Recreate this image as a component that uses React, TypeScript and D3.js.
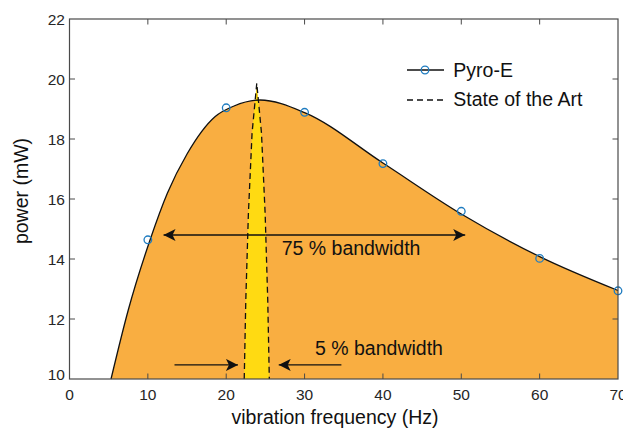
import React, { useEffect, useRef } from "react";
import * as d3 from "d3";

// measured Pyro-E samples
const pyroFreq = [10, 20, 30, 40, 50, 60, 70];
const pyroPower = [14.64, 19.04, 18.89, 17.18, 15.59, 14.02, 12.94];

// fitted Pyro-E curve (anchor points)
const fitFreq = [5.3, 7.5, 10.3, 12.5, 15, 18.6, 21, 24.3, 30, 40, 50, 60, 70];
const fitPower = [10, 12.3, 14.65, 16.2, 17.5, 18.75, 19.1, 19.3, 18.88, 17.2, 15.5, 14.08, 12.95];

// state of the art narrow peak
const sotaFreq = [22.3, 22.5, 22.83, 23.3, 23.9, 24.5, 24.97, 25.3, 25.5];
const sotaPower = [10, 12.63, 15.5, 18.2, 19.86, 18.2, 15.5, 12.63, 10];

const xTicks = [0, 10, 20, 30, 40, 50, 60, 70];
const yTicks = [10, 12, 14, 16, 18, 20, 22];

const W = 623;
const H = 431;
const FONT = "'Liberation Sans', Arial, Helvetica, sans-serif";

const App = () => {
  const svgRef = useRef<SVGSVGElement | null>(null);

  useEffect(() => {
    const svg = d3.select(svgRef.current);
    svg.selectAll("*").remove();

    const x = d3.scaleLinear().domain([0, 70]).range([69.5, 618]);
    const y = d3.scaleLinear().domain([10, 22]).range([379, 19]);

    const defs = svg.append("defs");
    defs
      .append("marker")
      .attr("id", "arr")
      .attr("markerUnits", "userSpaceOnUse")
      .attr("markerWidth", 12)
      .attr("markerHeight", 12)
      .attr("viewBox", "0 -5 10 10")
      .attr("refX", 10)
      .attr("refY", 0)
      .attr("orient", "auto-start-reverse")
      .append("path")
      .attr("d", "M0,-5L10,0L0,5L2.5,0Z")
      .attr("fill", "#111");

    const fit = fitFreq.map((f, i) => [f, fitPower[i]] as [number, number]);
    const sota = sotaFreq.map((f, i) => [f, sotaPower[i]] as [number, number]);

    // orange area under the Pyro-E curve
    const area = d3
      .area<[number, number]>()
      .x((d) => x(d[0]))
      .y0(y(10))
      .y1((d) => y(d[1]))
      .curve(d3.curveMonotoneX);
    svg.append("path").datum(fit).attr("d", area).attr("fill", "#F9AE41");

    // yellow peak
    const sotaLine = d3
      .line<[number, number]>()
      .x((d) => x(d[0]))
      .y((d) => y(d[1]))
      .curve(d3.curveLinear);
    svg.append("path").datum(sota).attr("d", sotaLine).attr("fill", "#FFDA12");

    // Pyro-E line
    const line = d3
      .line<[number, number]>()
      .x((d) => x(d[0]))
      .y((d) => y(d[1]))
      .curve(d3.curveMonotoneX);
    svg
      .append("path")
      .datum(fit)
      .attr("d", line)
      .attr("fill", "none")
      .attr("stroke", "#111")
      .attr("stroke-width", 1.3);

    // dashed outline of the peak
    svg
      .append("path")
      .datum(sota)
      .attr("d", sotaLine)
      .attr("fill", "none")
      .attr("stroke", "#111")
      .attr("stroke-width", 1.3)
      .attr("stroke-dasharray", "6,4");

    // data points
    svg
      .selectAll("circle.pt")
      .data(pyroFreq)
      .enter()
      .append("circle")
      .attr("class", "pt")
      .attr("cx", (d) => x(d))
      .attr("cy", (d, i) => y(pyroPower[i]))
      .attr("r", 3.8)
      .attr("fill", "none")
      .attr("stroke", "#1f7cc0")
      .attr("stroke-width", 1.3);

    // bandwidth arrows
    const arrows = [
      [25, 12, 14.8],
      [25, 50.5, 14.8],
      [13.4, 21.5, 10.47],
      [34.7, 26.7, 10.47],
    ];
    arrows.forEach(([from, to, level]) => {
      svg
        .append("line")
        .attr("x1", x(from))
        .attr("x2", x(to))
        .attr("y1", y(level))
        .attr("y2", y(level))
        .attr("stroke", "#111")
        .attr("stroke-width", 1.3)
        .attr("marker-end", "url(#arr)");
    });

    svg
      .append("text")
      .attr("x", 281.7)
      .attr("y", 255)
      .attr("font-family", FONT)
      .attr("font-size", 19.5)
      .attr("fill", "#111")
      .text("75 % bandwidth");
    svg
      .append("text")
      .attr("x", 315)
      .attr("y", 355)
      .attr("font-family", FONT)
      .attr("font-size", 19.5)
      .attr("fill", "#111")
      .text("5 % bandwidth");

    // frame and inward ticks
    const axisColor = "#4a4a4a";
    svg
      .append("rect")
      .attr("x", x(0))
      .attr("y", y(22))
      .attr("width", x(70) - x(0))
      .attr("height", y(10) - y(22))
      .attr("fill", "none")
      .attr("stroke", axisColor)
      .attr("stroke-width", 1.2);

    const tickLen = 5.5;
    const ticks = svg.append("g").attr("stroke", axisColor).attr("stroke-width", 1);
    xTicks.slice(1, -1).forEach((t) => {
      ticks.append("line").attr("x1", x(t)).attr("x2", x(t)).attr("y1", y(22)).attr("y2", y(22) + tickLen);
      ticks.append("line").attr("x1", x(t)).attr("x2", x(t)).attr("y1", y(10)).attr("y2", y(10) - tickLen);
    });
    yTicks.slice(1, -1).forEach((t) => {
      ticks.append("line").attr("x1", x(0)).attr("x2", x(0) + tickLen).attr("y1", y(t)).attr("y2", y(t));
      ticks.append("line").attr("x1", x(70)).attr("x2", x(70) - tickLen).attr("y1", y(t)).attr("y2", y(t));
    });

    // tick labels
    svg
      .append("g")
      .selectAll("text")
      .data(xTicks)
      .enter()
      .append("text")
      .attr("x", (d) => x(d))
      .attr("y", 400)
      .attr("text-anchor", "middle")
      .attr("font-family", FONT)
      .attr("font-size", 15.5)
      .attr("fill", "#262626")
      .text((d) => d);
    svg
      .append("g")
      .selectAll("text")
      .data(yTicks)
      .enter()
      .append("text")
      .attr("x", 65)
      .attr("y", (d) => (d === 10 ? y(d) - 5 : y(d)))
      .attr("dy", "0.36em")
      .attr("text-anchor", "end")
      .attr("font-family", FONT)
      .attr("font-size", 15.5)
      .attr("fill", "#262626")
      .text((d) => d);

    // axis titles
    svg
      .append("text")
      .attr("x", 335)
      .attr("y", 424)
      .attr("text-anchor", "middle")
      .attr("font-family", FONT)
      .attr("font-size", 19.5)
      .attr("fill", "#111")
      .text("vibration frequency (Hz)");
    svg
      .append("text")
      .attr("transform", "translate(28,191) rotate(-90)")
      .attr("text-anchor", "middle")
      .attr("font-family", FONT)
      .attr("font-size", 19.5)
      .attr("fill", "#111")
      .text("power (mW)");

    // legend
    const lg = svg.append("g");
    lg.append("line").attr("x1", 407).attr("x2", 444).attr("y1", 70).attr("y2", 70).attr("stroke", "#111").attr("stroke-width", 1.3);
    lg.append("circle").attr("cx", 425).attr("cy", 70).attr("r", 3.8).attr("fill", "none").attr("stroke", "#1f7cc0").attr("stroke-width", 1.3);
    lg.append("text").attr("x", 453.3).attr("y", 76.5).attr("font-family", FONT).attr("font-size", 19.5).attr("fill", "#111").text("Pyro-E");
    lg.append("line").attr("x1", 407).attr("x2", 444).attr("y1", 100).attr("y2", 100).attr("stroke", "#111").attr("stroke-width", 1.3).attr("stroke-dasharray", "6,4");
    lg.append("text").attr("x", 453.3).attr("y", 106).attr("font-family", FONT).attr("font-size", 19.5).attr("fill", "#111").text("State of the Art");
  }, []);

  return (
    <svg
      ref={svgRef}
      width={W}
      height={H}
      style={{ position: "absolute", left: 0, top: 0, display: "block", background: "#fff" }}
    ></svg>
  );
};

export default App;
